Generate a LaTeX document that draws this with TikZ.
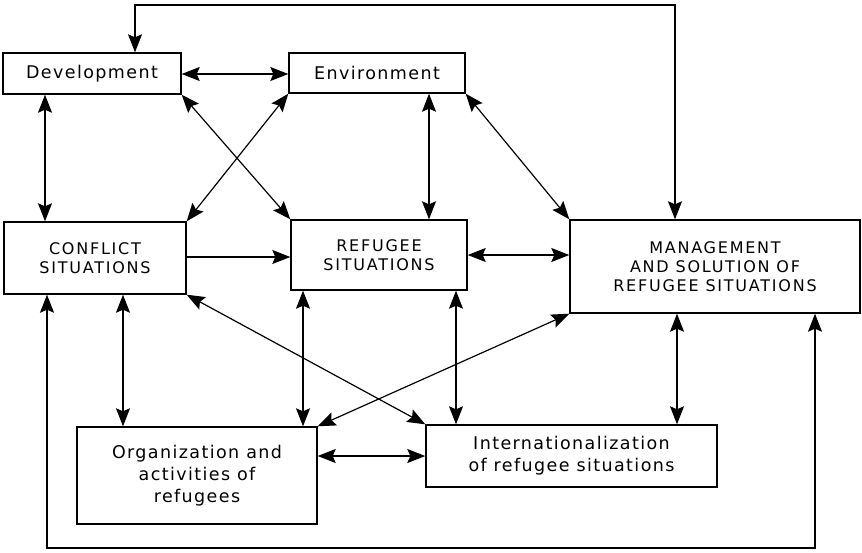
\documentclass[tikz,border=0pt]{standalone}
\usepackage{fontspec}
\setmainfont{DejaVu Sans}[LetterSpace=8]
\newfontfamily\capsfont{DejaVu Sans}[LetterSpace=11]
\usetikzlibrary{arrows.meta,calc}
\begin{document}
\begin{tikzpicture}[x=1pt,y=-1pt,
  box/.style={draw, line width=1.4pt, align=center, inner sep=0pt, font=\fontsize{17.5}{22}\selectfont},
  capsbox/.style={box, font=\capsfont\fontsize{16}{19}\selectfont},
  arr/.style={line width=1.2pt, -{Stealth[length=18pt,width=14pt,inset=3pt]}},
  darr/.style={line width=1.2pt, {Stealth[length=18pt,width=14pt,inset=3pt]}-{Stealth[length=18pt,width=14pt,inset=3pt]}}]
\useasboundingbox (0,0) rectangle (862,552);
\node[box, minimum width=178pt, minimum height=41pt] (dev) at (92,73.5) {Development};
\node[box, minimum width=176pt, minimum height=40pt] (env) at (377,73) {Environment};
\node[capsbox, minimum width=182pt, minimum height=72pt] (con) at (95,258) {CONFLICT\\SITUATIONS};
\node[capsbox, minimum width=176pt, minimum height=70pt] (ref) at (379,255) {REFUGEE\\SITUATIONS};
\node[capsbox, minimum width=290pt, minimum height=93pt] (man) at (715,266.5) {MANAGEMENT\\AND SOLUTION OF\\REFUGEE SITUATIONS};
\node[box, minimum width=240pt, minimum height=97pt] (org) at (197,475.5) {Organization and\\activities of\\refugees};
\node[box, minimum width=291pt, minimum height=62pt] (int) at (571.5,456) {Internationalization\\of refugee situations};
% helper coordinates
\coordinate (x45) at (45,0);
\coordinate (x123) at (123,0);
\coordinate (x135) at (135,0);
\coordinate (x303) at (303,0);
\coordinate (x429) at (429,0);
\coordinate (x456) at (456,0);
\coordinate (x675) at (675,0);
\coordinate (x677) at (677,0);
\coordinate (x815) at (815,0);
\coordinate (x47) at (47,0);
\coordinate (ytop) at (0,5);
\coordinate (ybot) at (0,548);
\coordinate (y74) at (0,74);
\coordinate (y257) at (0,257);
\coordinate (y255) at (0,255);
\coordinate (y456) at (0,456);
% top feedback line
\draw[darr] (dev.north -| x135) |- (ytop -| x675) -- (man.north -| x675);
% bottom feedback line
\draw[darr] (con.south -| x47) |- (ybot -| x815) -- (man.south -| x815);
% horizontal
\draw[darr] (dev.east |- y74) -- (env.west |- y74);
\draw[arr] (con.east |- y257) -- (ref.west |- y257);
\draw[darr] (ref.east |- y255) -- (man.west |- y255);
\draw[darr] (org.east |- y456) -- (int.west |- y456);
% vertical
\draw[darr] (dev.south -| x45) -- (con.north -| x45);
\draw[darr] (env.south -| x429) -- (ref.north -| x429);
\draw[darr] (con.south -| x123) -- (org.north -| x123);
\draw[darr] (ref.south -| x303) -- (org.north -| x303);
\draw[darr] (ref.south -| x456) -- (int.north -| x456);
\draw[darr] (man.south -| x677) -- (int.north -| x677);
% diagonals
\draw[darr] (dev.south east) -- (ref.north west);
\draw[darr] (env.south west) -- (con.north east);
\draw[darr] (env.south east) -- (man.north west);
\draw[darr] (man.south west) -- (org.north east);
\draw[darr] (int.north west) -- (con.south east);
\end{tikzpicture}
\end{document}
